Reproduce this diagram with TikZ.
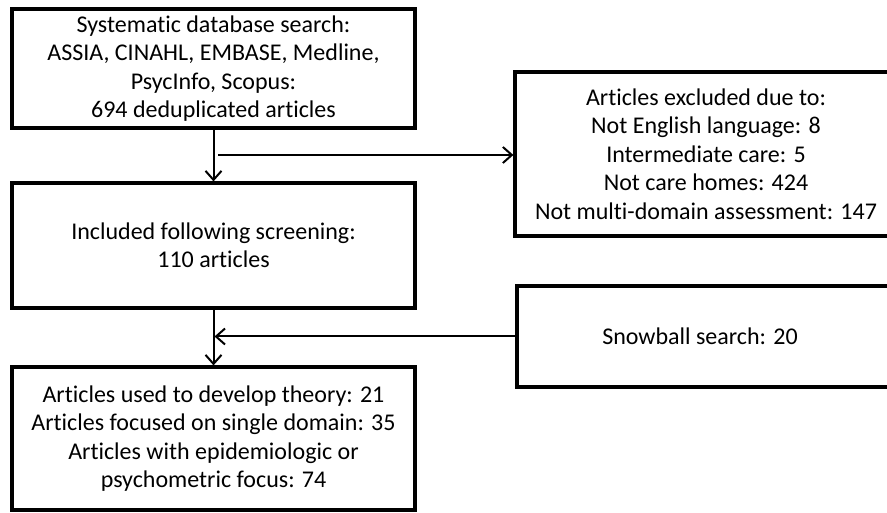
\documentclass[tikz,border=0pt]{standalone}
\usepackage{fontspec}
\setmainfont{Carlito}[RawFeature={-liga}]
\usetikzlibrary{arrows.meta}
\begin{document}
\begin{tikzpicture}[x=1pt,y=-1pt,
  box/.style={draw=black, line width=3.2pt, inner sep=0pt, align=center,
    font=\fontsize{24}{28.5}\selectfont},
  conn/.style={line width=2pt, -{Straight Barb[length=9pt,width=16pt,line width=2pt]}}]
\useasboundingbox (0,0) rectangle (887,513);
\node[box, minimum width=403pt, minimum height=119pt] (a) at (213.5,68.5)
  {Systematic database search:\\ ASSIA, CINAHL, EMBASE, Medline,\\ PsycInfo, Scopus:\\ 694 deduplicated articles};
\node[box, minimum width=382pt, minimum height=164pt] (b) at (706,154)
  {Articles excluded due to:\\ Not English language: 8\\ Intermediate care: 5\\ Not care homes: 424\\ Not multi-domain assessment: 147};
\node[box, minimum width=403pt, minimum height=125pt] (c) at (213.5,245.5)
  {Included following screening:\\ 110 articles};
\node[box, minimum width=380pt, minimum height=101pt] (d) at (707,336.5)
  {Snowball search: 20\hspace*{14pt}};
\node[box, minimum width=403pt, minimum height=143pt] (e) at (213.5,438.5)
  {Articles used to develop theory: 21\\ Articles focused on single domain: 35\\ Articles with epidemiologic or\\ psychometric focus: 74};
\coordinate (h1) at (218,155);
\draw[conn] (a) -- (c);
\draw[conn] (h1) -- (h1 -| b.west);
\draw[conn] (c) -- (e);
\draw[conn] (d.west) -- ([xshift=1pt]d.west -| c.south);
\end{tikzpicture}
\end{document}
